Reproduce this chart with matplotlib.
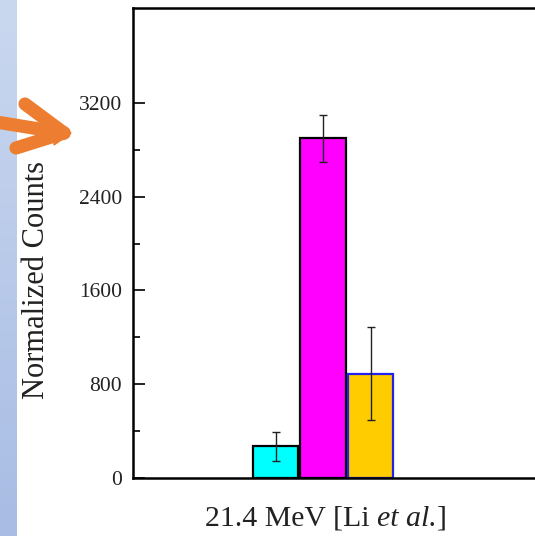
import numpy as np
import matplotlib
matplotlib.use("Agg")
import matplotlib.pyplot as plt
from matplotlib.lines import Line2D
from matplotlib.text import Annotation

plt.rcParams['font.family'] = ['Liberation Serif', 'DejaVu Serif']

# data
positions = [0, 1, 2]
values = [270, 2900, 890]
errors = [125, 200, 397]
face_colors = ['#00FFFF', '#FF00FF', '#FFCC00']
edge_colors = ['#000000', '#000000', '#2222EE']
yticks = [0, 800, 1600, 2400, 3200]
minor_yticks = [400, 1200, 2000, 2800]
xlabel_parts = ["21.4 MeV [Li ", "et al.", "]"]
ylabel_text = "Normalized Counts"

W, H = 535, 536
fig = plt.figure(figsize=(W / 100, H / 100), dpi=100)

# left decorative strip
strip = fig.add_axes([0, 0, 17 / W, 1])
grad = np.linspace(0, 1, 256).reshape(-1, 1)
top = np.array([202, 216, 239]) / 255
bot = np.array([168, 188, 228]) / 255
img = top[None, None, :] * (1 - grad[:, :, None]) + bot[None, None, :] * grad[:, :, None]
strip.imshow(img, aspect='auto', extent=[0, 1, 0, 1])
strip.axis('off')

# main axes
ax_left, ax_right = 133, 545
ax_top, ax_bot = 8, 478
ax = fig.add_axes([ax_left / W, 1 - ax_bot / H, (ax_right - ax_left) / W, (ax_bot - ax_top) / H])
unit = 47.5
ax.set_xlim(1 - (323 - ax_left) / unit, 1 + (ax_right - 323) / unit)
ax.set_ylim(0, 4010)

ax.bar(positions, values, width=0.96, color=face_colors, edgecolor=edge_colors, linewidth=1.6, zorder=2)
ax.errorbar(positions, values, yerr=errors, fmt='none', ecolor='#222222', elinewidth=1.0,
            capsize=3, capthick=1.0, zorder=3)

ax.set_yticks(yticks)
ax.set_yticklabels([str(t) for t in yticks], fontsize=15.5, color='#222222')
ax.set_yticks(minor_yticks, minor=True)
ax.tick_params(axis='y', which='major', direction='in', length=8.5, width=1.2, pad=8)
ax.tick_params(axis='y', which='minor', direction='in', length=5, width=1.2)
ax.set_xticks([])
for s in ['left', 'bottom', 'top']:
    ax.spines[s].set_linewidth(1.8)
ax.spines['right'].set_visible(False)

# x label in pieces (italic "et al.")
fs = 21.5
t1 = fig.text(205 / W, 1 - 519 / H, xlabel_parts[0], ha='left', va='center', fontsize=fs, color='#222222')
an2 = Annotation(xlabel_parts[1], xy=(1, 0), xycoords=t1, va='bottom', ha='left',
                 fontsize=fs, style='italic', color='#222222')
fig.add_artist(an2)
an3 = Annotation(xlabel_parts[2], xy=(1, 0), xycoords=an2, va='bottom', ha='left',
                 fontsize=fs, color='#222222')
fig.add_artist(an3)

fig.text(37 / W, 1 - 280 / H, ylabel_text, ha='center', va='center', rotation=90, fontsize=22, color='#222222')

# orange arrow overlay
ov = fig.add_axes([0, 0, 1, 1], zorder=10)
ov.set_xlim(0, W)
ov.set_ylim(H, 0)
ov.axis('off')
ov.patch.set_alpha(0)
orange = '#ED7D31'
lw = 9.5
for (x0, y0), (x1, y1) in [((-10, 121), (64, 133)), ((25, 104), (64, 133)), ((16, 148), (64, 133))]:
    ov.add_line(Line2D([x0, x1], [y0, y1], color=orange, lw=lw, solid_capstyle='round'))
ov.fill([54, 71, 54], [121, 133, 145], color=orange)

fig.savefig('out.png', dpi=100)
